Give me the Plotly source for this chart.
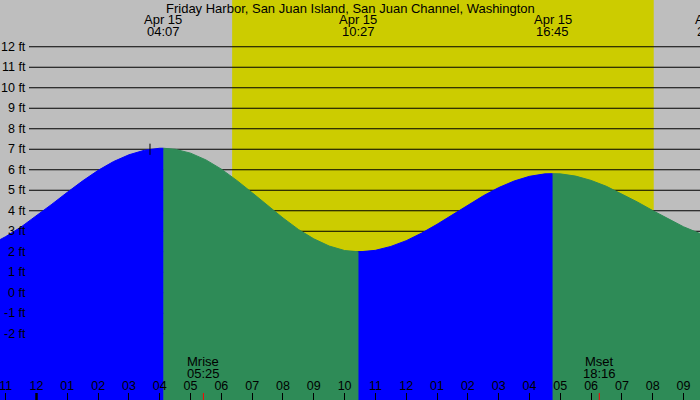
import pandas as pd
import plotly.graph_objects as go

station = "Friday Harbor, San Juan Island, San Juan Channel, Washington"

# tide height (ft) every 30 minutes
sample_times = pd.date_range("2023-04-14 22:30", "2023-04-15 22:00", freq="30min")
tide_ft = [2.34, 2.74, 3.21, 3.75, 4.32, 4.90, 5.46, 5.97, 6.40, 6.73, 6.95, 7.05,
           7.00, 6.81, 6.48, 6.03, 5.48, 4.88, 4.26, 3.65, 3.09, 2.63, 2.28, 2.06,
           2.00, 2.07, 2.26, 2.54, 2.91, 3.34, 3.81, 4.28, 4.73, 5.13, 5.45, 5.68,
           5.80, 5.80, 5.69, 5.48, 5.19, 4.83, 4.43, 4.01, 3.60, 3.22, 2.91, 2.67]

# high / low tide events
event_times = pd.to_datetime(["2023-04-15 04:07", "2023-04-15 10:27",
                              "2023-04-15 16:45", "2023-04-15 21:59"])
event_ft = [7.05, 2.00, 5.81, 2.68]

sun_times = pd.to_datetime(["2023-04-15 06:21", "2023-04-15 20:02"])
moon_times = pd.to_datetime(["2023-04-15 05:25", "2023-04-15 18:16"])
moon_names = ["Mrise", "Mset"]
mark_times = pd.to_datetime(["2023-04-15 03:41"])
mark_ft = [7.0]

ft_ticks = list(range(12, -3, -1))

W, H = 700, 400
BOTTOM = -6
FONT = "Liberation Sans, Arial, sans-serif"
x_range = pd.to_datetime(["2023-04-14 22:48:54", "2023-04-15 21:32:06"])


def to_paper(t):
    # position of a time along the x axis, as a fraction of the plot width
    return (t - x_range[0]) / (x_range[1] - x_range[0])


fig = go.Figure()

# split the curve at each tide event, colour rising blue / falling green
pts = sorted(list(zip(sample_times, tide_ft)) + list(zip(event_times, event_ft)))
segments = [[]]
for t, h in pts:
    segments[-1].append((t, h))
    if t in set(event_times):
        segments.append([(t, h)])
for seg in segments:
    if len(seg) < 2:
        continue
    xs = [p[0] for p in seg]
    ys = [p[1] for p in seg]
    color = "#0000FF" if ys[-1] > ys[0] else "#2E8B57"
    fig.add_trace(go.Scatter(
        x=xs + [xs[-1], xs[0]], y=ys + [BOTTOM, BOTTOM],
        mode="lines", fill="toself", fillcolor=color,
        line=dict(color=color, width=1), hoverinfo="skip", showlegend=False))

fig.add_trace(go.Scatter(
    x=mark_times, y=mark_ft, mode="markers", hoverinfo="skip", showlegend=False,
    marker=dict(symbol="line-ns", size=8, line=dict(color="black", width=1))))

shapes = [dict(type="rect", xref="x", yref="paper", x0=sun_times[0], x1=sun_times[1],
               y0=0, y1=1, fillcolor="#CCCC00", line=dict(width=0), layer="below")]
for v in ft_ticks:
    shapes.append(dict(type="line", xref="paper", yref="y", x0=29 / W, x1=1,
                       y0=v, y1=v, line=dict(color="black", width=1), layer="below"))
shapes.append(dict(type="line", xref="x", yref="paper", x0="2023-04-15 00:00",
                   x1="2023-04-15 00:00", y0=0, y1=7 / H,
                   line=dict(color="black", width=2.5)))
for t in moon_times:
    shapes.append(dict(type="line", xref="x", yref="paper", x0=t, x1=t,
                       y0=0, y1=7 / H, line=dict(color="red", width=1)))

annotations = [dict(text=station, xref="paper", yref="paper", x=0.5, y=1 - 8 / H,
                    showarrow=False, xanchor="center", yanchor="middle",
                    font=dict(size=13))]
for v in ft_ticks:
    annotations.append(dict(text=f"{v} ft", xref="paper", yref="y", x=27.5 / W, y=v,
                            xanchor="right", yanchor="middle", showarrow=False,
                            font=dict(size=12.5)))
for t in event_times:
    annotations.append(dict(text=t.strftime("%b %d"), xref="paper", yref="paper",
                            x=to_paper(t), y=1 - 19.5 / H, xanchor="center",
                            yanchor="middle", showarrow=False, font=dict(size=13)))
    annotations.append(dict(text=t.strftime("%H:%M"), xref="paper", yref="paper",
                            x=to_paper(t), y=1 - 31.5 / H, xanchor="center",
                            yanchor="middle", showarrow=False, font=dict(size=13)))
for t, name in zip(moon_times, moon_names):
    annotations.append(dict(text=name, xref="x", yref="paper", x=t,
                            y=1 - 361.7 / H, xanchor="center", yanchor="middle",
                            showarrow=False, font=dict(size=13)))
    annotations.append(dict(text=t.strftime("%H:%M"), xref="x", yref="paper", x=t,
                            y=1 - 373.3 / H, xanchor="center", yanchor="middle",
                            showarrow=False, font=dict(size=13)))

fig.update_layout(
    width=W, height=H, margin=dict(l=0, r=0, t=0, b=0),
    paper_bgcolor="#BEBEBE", plot_bgcolor="#BEBEBE",
    font=dict(family=FONT, size=12, color="black"),
    shapes=shapes, annotations=annotations, showlegend=False,
    xaxis=dict(type="date", range=list(x_range),
               tick0="2023-04-15 00:00", dtick=3600000, tickformat="%I",
               ticks="inside", ticklen=7, tickcolor="black", tickwidth=1,
               ticklabelposition="inside", ticklabeloverflow="allow",
               showgrid=False, zeroline=False, showline=False,
               layer="above traces", tickfont=dict(size=12.5, color="black")),
    yaxis=dict(range=[-5.23, 14.28], showgrid=False, zeroline=False,
               showticklabels=False, ticks=""),
)

# the page body has a default 8px margin; drop it so the chart fills the window
fig.write_html("out.html", config={"displayModeBar": False},
               post_script="document.body.style.margin='0';")
